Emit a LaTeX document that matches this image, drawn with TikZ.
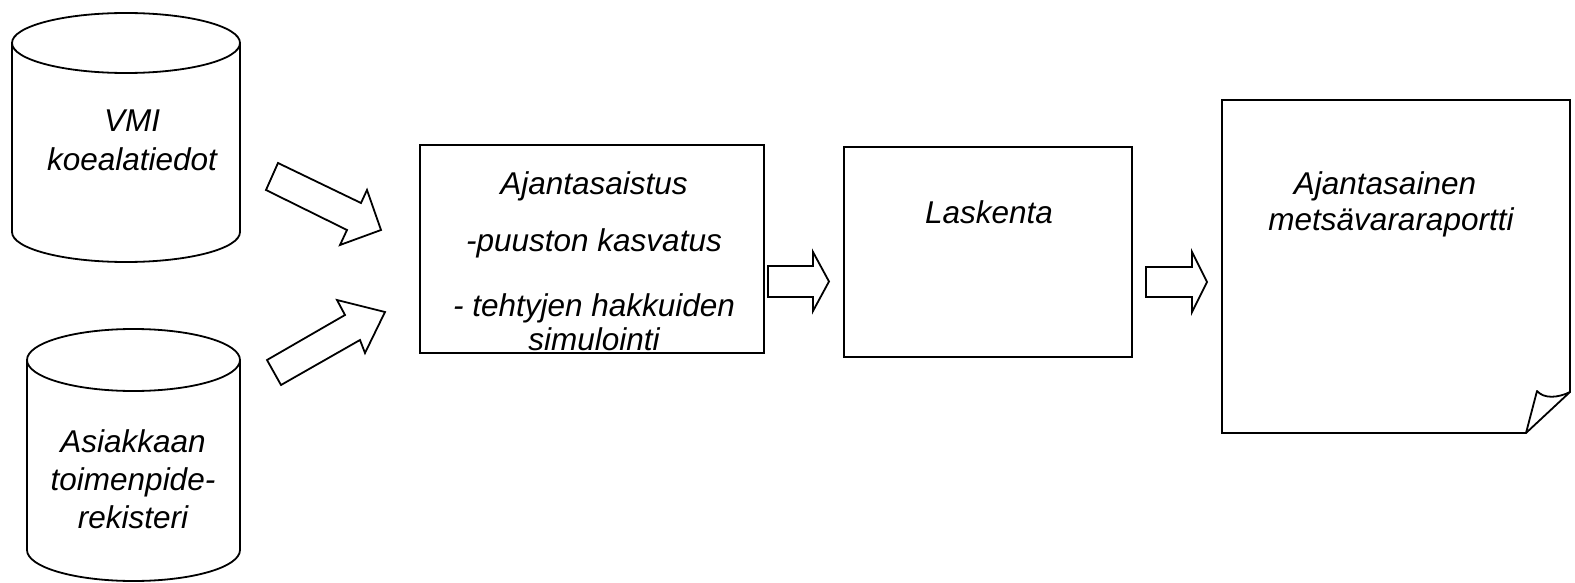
\documentclass[tikz,border=0pt]{standalone}
\usepackage{fontspec}
\setmainfont{Liberation Sans}
\tikzset{
  shapeline/.style={draw=black, line width=1.8pt, line join=miter},
  lbl/.style={font=\fontsize{31.5}{38}\selectfont\itshape, anchor=base, inner sep=0pt},
  boxnode/.style={shapeline, rectangle, inner sep=0pt, fill=white},
  blockarrow/.style={shapeline, fill=white},
}
\begin{document}
\begin{tikzpicture}[x=1pt,y=-1pt]
\useasboundingbox (0,0) rectangle (1575,583);

% cylinder 1
\draw[shapeline] (12,43) -- (12,232) arc[start angle=180,end angle=360,x radius=114pt,y radius=30pt] -- (240,43);
\draw[shapeline] (126,43) ellipse[x radius=114pt,y radius=30pt];
\node[lbl] (vmi) at (132,132) {VMI};
\node[lbl] (koe) at (132,171) {koealatiedot};

% cylinder 2
\draw[shapeline] (27,360) -- (27,550) arc[start angle=180,end angle=360,x radius=106.5pt,y radius=31pt] -- (240,360);
\draw[shapeline] (133.5,360) ellipse[x radius=106.5pt,y radius=31pt];
\node[lbl] (asi) at (133,452) {Asiakkaan};
\node[lbl] (toi) at (133,490) {toimenpide-};
\node[lbl] (rek) at (133,528) {rekisteri};

% box 1
\node[boxnode, minimum width=344pt, minimum height=208pt] (upd) at (592,249) {};
\node[lbl] (upd1) at (594,194) {Ajantasaistus};
\node[lbl] (upd2) at (594,251) {-puuston kasvatus};
\node[lbl] (upd3) at (594,316) {- tehtyjen hakkuiden};
\node[lbl] (upd4) at (594,350) {simulointi};

% box 2
\node[boxnode, minimum width=288pt, minimum height=210pt] (calc) at (988,252) {};
\node[lbl] (calct) at (989,223) {Laskenta};

% document
\coordinate (docA) at (1222,100);
\coordinate (docB) at (1570,100);
\coordinate (docC) at (1570,392);
\coordinate (docD) at (1526,433);
\coordinate (docE) at (1222,433);
\draw[shapeline] (docA) -- (docB) -- (docC) -- (docD) -- (docE) -- cycle;
\draw[shapeline, line join=round] (docD) -- (1537,391) .. controls (1544,399) and (1558,398) .. (docC);
\node[lbl] (rep1) at (1385,195) {Ajantasainen};
\node[lbl] (rep2) at (1391,230) {metsävararaportti};

% block arrows
\draw[blockarrow] (278,163) -- (361,203) -- (367,190) -- (381,230) -- (340,245) -- (347,230) -- (266,190) -- cycle;
\draw[blockarrow] (267,360) -- (345,315) -- (337,300) -- (385,312) -- (365,353) -- (360,340) -- (281,385) -- cycle;
\draw[blockarrow] (768,266) -- (813,266) -- (813,252) -- (829,281.5) -- (813,311) -- (813,297) -- (768,297) -- cycle;
\draw[blockarrow] (1146,267) -- (1192,267) -- (1192,252) -- (1207,282) -- (1192,312) -- (1192,297) -- (1146,297) -- cycle;
\end{tikzpicture}
\end{document}
